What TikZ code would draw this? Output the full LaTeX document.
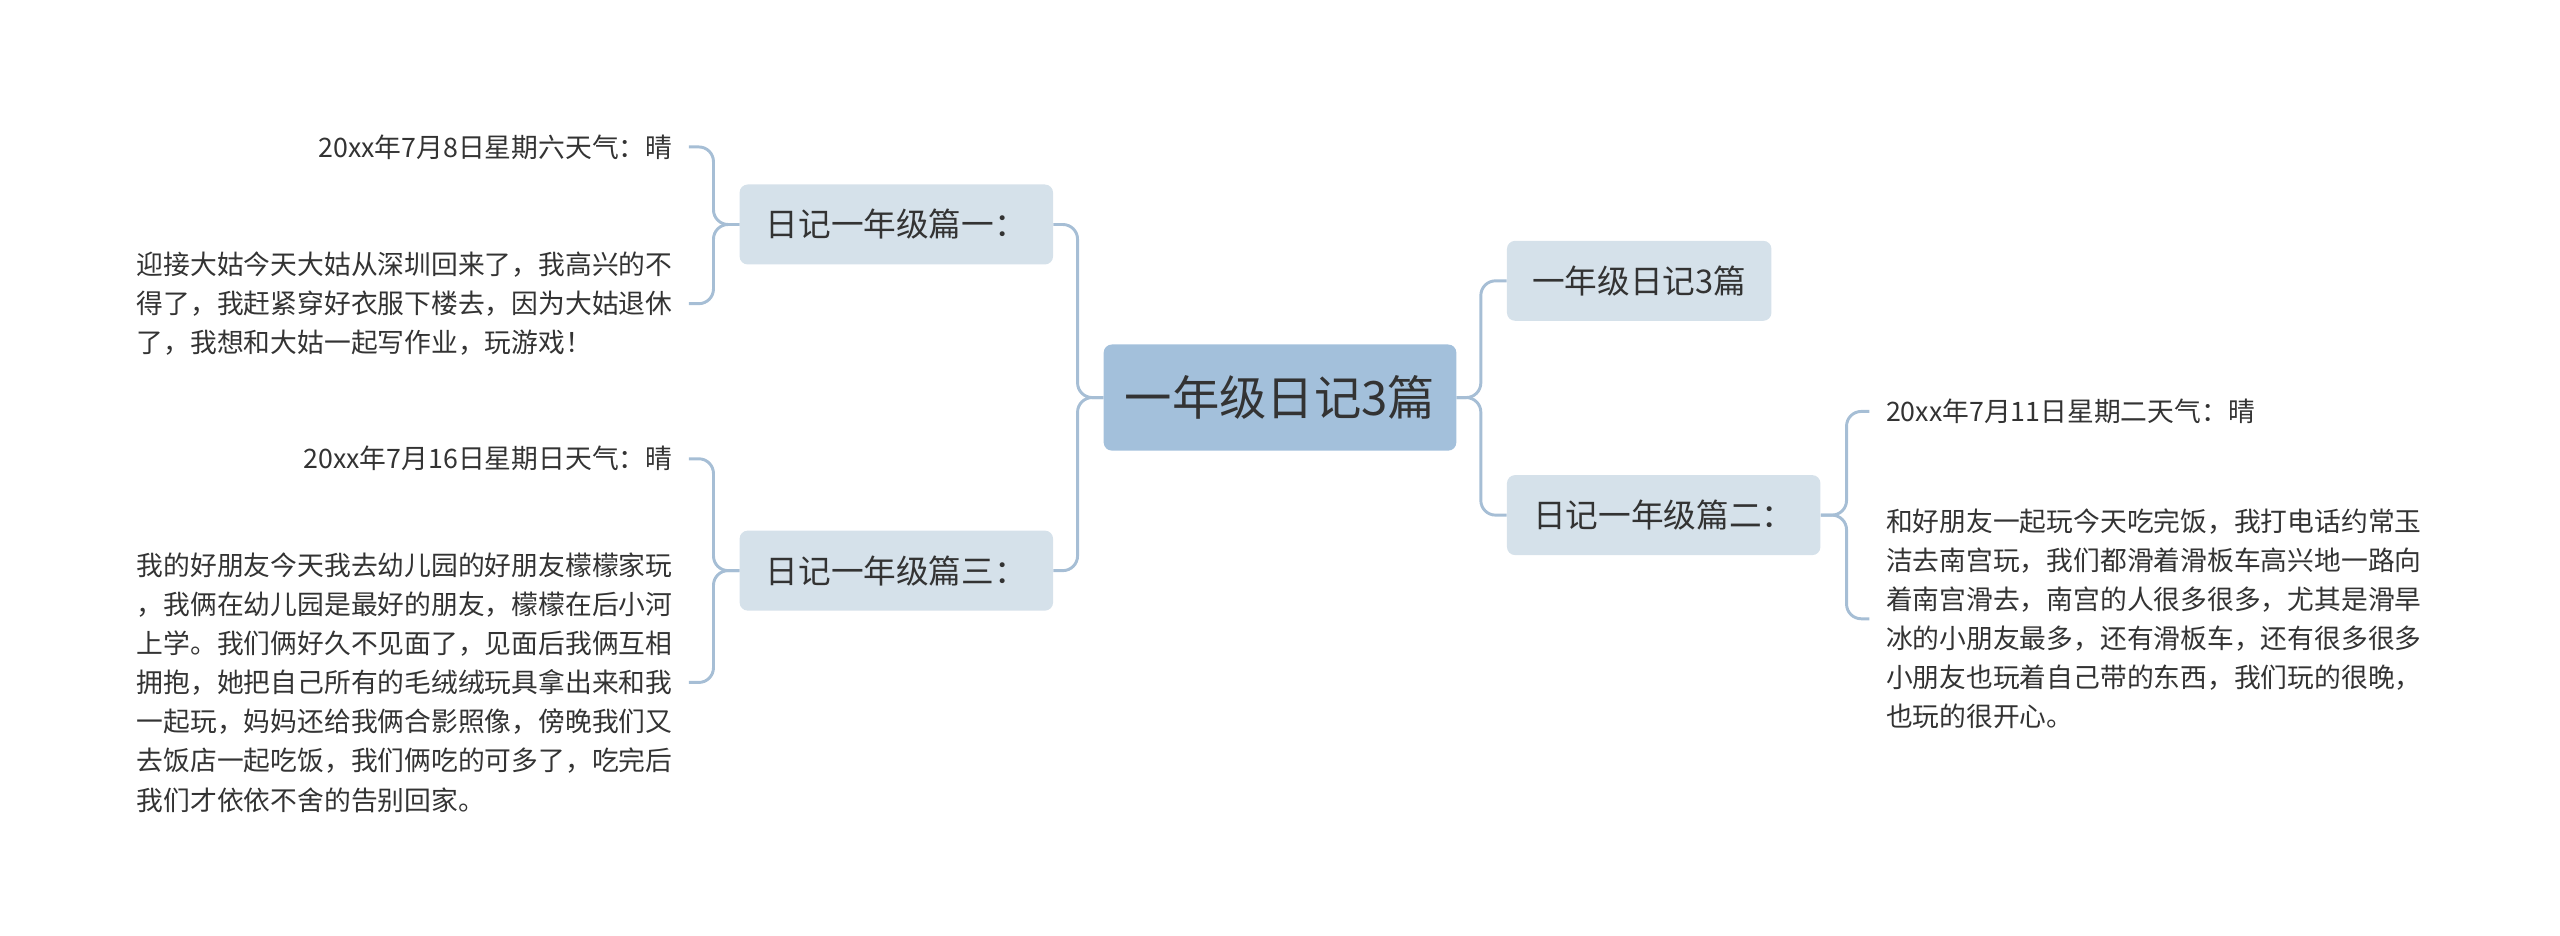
\documentclass[tikz,border=0pt]{standalone}
\usepackage{fontspec}
\setmainfont{Noto Sans CJK SC}
\definecolor{lc}{HTML}{A6BED5}
\definecolor{cfill}{HTML}{A3C0DB}
\definecolor{bfill}{HTML}{D5E1EA}
\definecolor{tc}{HTML}{333333}
\begin{document}
\begin{tikzpicture}[x=1pt,y=-1pt,
  center/.style={fill=cfill,rounded corners=5pt,minimum width=216pt,minimum height=65pt,font=\fontsize{29}{34}\selectfont,text=tc,inner sep=0},
  branch/.style={fill=bfill,rounded corners=5pt,minimum height=49pt,font=\fontsize{20}{24}\selectfont,text=tc,inner sep=0},
  leaf/.style={font=\fontsize{16.4}{24}\selectfont,text=tc,align=left,inner ysep=2pt,inner xsep=10pt},
  conn/.style={draw=lc,line width=1.8pt,rounded corners=9pt}]
\useasboundingbox (0,0) rectangle (1568,573);
\node[center] (c) at (784,243.5) {一年级日记3篇};
\node[branch,minimum width=162pt] (r1) at (1004,172) {一年级日记3篇};
\node[branch,minimum width=192pt] (r2) at (1019,315.5) {日记一年级篇二：};
\node[branch,minimum width=192pt] (l1) at (549,137.5) {日记一年级篇一：};
\node[branch,minimum width=192pt] (l3) at (549,349.5) {日记一年级篇三：};
\node[leaf,anchor=east] (t1) at (422,90) {20xx年7月8日星期六天气：晴};
\node[leaf,anchor=east] (b1) at (422,186) {迎接大姑今天大姑从深圳回来了，我高兴的不\\得了，我赶紧穿好衣服下楼去，因为大姑退休\\了，我想和大姑一起写作业，玩游戏！};
\node[leaf,anchor=east] (t3) at (422,281) {20xx年7月16日星期日天气：晴};
\node[leaf,anchor=east] (b3) at (422,418) {我的好朋友今天我去幼儿园的好朋友檬檬家玩\\，我俩在幼儿园是最好的朋友，檬檬在后小河\\上学。我们俩好久不见面了，见面后我俩互相\\拥抱，她把自己所有的毛绒绒玩具拿出来和我\\一起玩，妈妈还给我俩合影照像，傍晚我们又\\去饭店一起吃饭，我们俩吃的可多了，吃完后\\我们才依依不舍的告别回家。};
\node[leaf,anchor=west] (t2) at (1145,252) {20xx年7月11日星期二天气：晴};
\node[leaf,anchor=west] (b2) at (1145,379) {和好朋友一起玩今天吃完饭，我打电话约常玉\\洁去南宫玩，我们都滑着滑板车高兴地一路向\\着南宫滑去，南宫的人很多很多，尤其是滑旱\\冰的小朋友最多，还有滑板车，还有很多很多\\小朋友也玩着自己带的东西，我们玩的很晚，\\也玩的很开心。};
\draw[conn] (c.west) -- (660,243.5) |- (l1.east);
\draw[conn] (c.west) -- (660,243.5) |- (l3.east);
\draw[conn] (c.east) -- (907,243.5) |- (r1.west);
\draw[conn] (c.east) -- (907,243.5) |- (r2.west);
\draw[conn] (l1.west) -- (437,137.5) |- (t1.east);
\draw[conn] (l1.west) -- (437,137.5) |- (b1.east);
\draw[conn] (l3.west) -- (437,349.5) |- (t3.east);
\draw[conn] (l3.west) -- (437,349.5) |- (b3.east);
\draw[conn] (r2.east) -- (1131,315.5) |- (t2.west);
\draw[conn] (r2.east) -- (1131,315.5) |- (b2.west);
\end{tikzpicture}
\end{document}
